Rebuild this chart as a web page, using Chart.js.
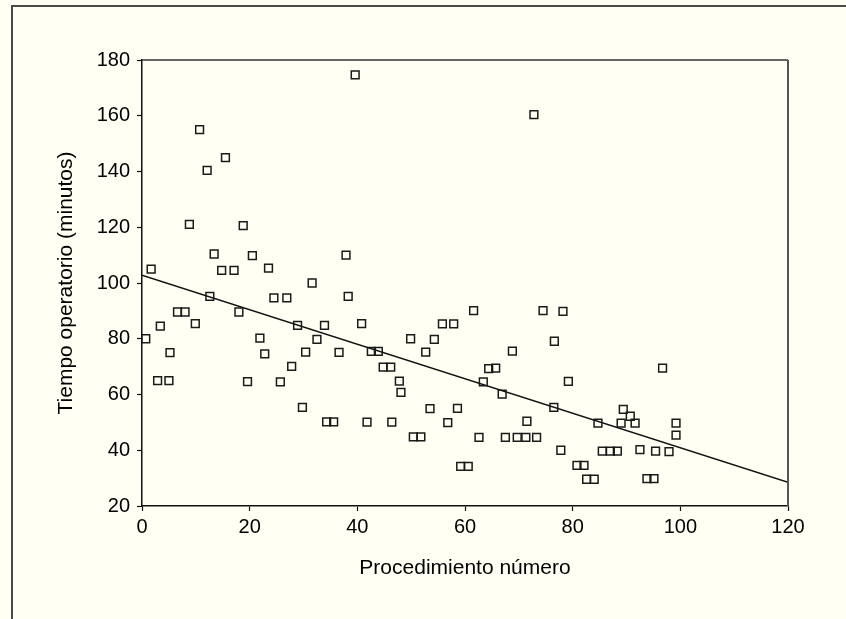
<!DOCTYPE html>
<html lang="es">
<head>
<meta charset="UTF-8" />
<title>Tiempo operatorio</title>
<script src="https://cdn.jsdelivr.net/npm/chart.js@4"></script>
<style>
  body { margin: 0; background: #fffff4; }
  #wrap { position: relative; width: 846px; height: 619px; }
  #frame {
    position: absolute; left: 11px; top: 5px; width: 835px; height: 614px;
    border-top: 2px solid #4a4a4a; border-left: 2px solid #4a4a4a;
    pointer-events: none;
  }
</style>
</head>
<body>
<div id="wrap">
  <canvas id="chart" width="846" height="619"></canvas>
  <div id="frame"></div>
</div>
<script>
// procedure number (x) and operating time in minutes (y)
const procedimiento = [
  0.7, 1.7, 2.9, 3.4, 5.0, 5.2, 6.6, 8.0, 8.8, 9.9,
  10.7, 12.1, 12.6, 13.4, 14.8, 15.5, 17.1, 18.0, 18.8, 19.6,
  20.5, 21.9, 22.8, 23.5, 24.5, 25.7, 26.9, 27.8, 28.9, 29.8,
  30.4, 31.6, 32.5, 33.9, 34.3, 35.6, 36.6, 37.9, 38.3, 39.6,
  40.8, 41.8, 42.6, 43.9, 44.8, 46.2, 46.4, 47.8, 48.1, 49.9,
  50.4, 51.8, 52.7, 53.5, 54.3, 55.8, 56.8, 57.9, 58.6, 59.2,
  60.6, 61.6, 62.6, 63.4, 64.4, 65.7, 66.9, 67.5, 68.8, 69.7,
  71.3, 71.5, 72.8, 73.3, 74.5, 76.5, 76.6, 77.8, 78.2, 79.2,
  80.8, 82.1, 82.6, 84.0, 84.7, 85.5, 87.0, 88.3, 89.0, 89.4,
  90.7, 91.6, 92.5, 93.8, 95.1, 95.4, 96.7, 97.9, 99.2, 99.2
];
const tiempo = [
  80, 105, 65, 84.5, 65, 75, 89.6, 89.6, 121, 85.4,
  155, 140.4, 95.2, 110.4, 104.5, 145, 104.5, 89.6, 120.6, 64.6,
  109.8, 80.2, 74.6, 105.3, 94.7, 64.5, 94.7, 70.1, 84.8, 55.4,
  75.2, 100, 79.8, 84.8, 50.2, 50.2, 75.1, 110, 95.2, 174.7,
  85.4, 50.1, 75.5, 75.5, 69.8, 69.8, 50.1, 64.8, 60.8, 80,
  44.8, 44.8, 75.2, 54.9, 79.8, 85.3, 49.9, 85.3, 55, 34.2,
  34.2, 90.1, 44.6, 64.5, 69.3, 69.5, 60.1, 44.6, 75.6, 44.6,
  44.6, 50.4, 160.4, 44.6, 90.1, 55.4, 79.1, 40, 89.8, 64.7,
  34.6, 34.6, 29.6, 29.6, 49.7, 39.7, 39.7, 39.7, 49.7, 54.7,
  52.2, 49.7, 40.2, 29.8, 29.8, 39.7, 69.5, 39.5, 49.7, 45.4
];
// fitted trend line end points
const tendenciaX = [0, 120];
const tendenciaY = [102.8, 28.5];

const xTitulo = "Procedimiento número";
const yTitulo = "Tiempo operatorio (minutos)";

const fontFamily = "'Liberation Sans', Arial, Helvetica, sans-serif";

// top and right edges of the plot box
const plotBox = {
  id: "plotBox",
  afterDraw(chart) {
    const { ctx, chartArea: a } = chart;
    ctx.save();
    ctx.strokeStyle = "#333";
    ctx.lineWidth = 1.5;
    ctx.beginPath();
    ctx.moveTo(a.left, a.top);
    ctx.lineTo(a.right, a.top);
    ctx.stroke();
    ctx.strokeStyle = "#555";
    ctx.lineWidth = 2;
    ctx.beginPath();
    ctx.moveTo(a.right, a.top);
    ctx.lineTo(a.right, a.bottom);
    ctx.stroke();
    ctx.restore();
  }
};

new Chart(document.getElementById("chart"), {
  type: "scatter",
  data: {
    datasets: [
      {
        label: "Procedimientos",
        data: procedimiento.map((x, i) => ({ x: x, y: tiempo[i] })),
        pointStyle: "rect",
        pointRadius: 5.5,
        pointBorderWidth: 1.5,
        borderColor: "#1a1a1a",
        backgroundColor: "rgba(0,0,0,0)"
      },
      {
        label: "Tendencia",
        data: tendenciaX.map((x, i) => ({ x: x, y: tendenciaY[i] })),
        showLine: true,
        pointRadius: 0,
        borderColor: "#111",
        borderWidth: 1.3
      }
    ]
  },
  options: {
    responsive: false,
    animation: false,
    layout: { padding: { left: 0, top: 60, right: 58, bottom: 0 } },
    plugins: { legend: { display: false }, tooltip: { enabled: false } },
    scales: {
      x: {
        type: "linear",
        min: 0,
        max: 120,
        afterFit(scale) { scale.height = 113; },
        border: { display: true, color: "#111", width: 1.5 },
        grid: { drawOnChartArea: false, tickLength: 5, tickColor: "#111", tickWidth: 1.2 },
        ticks: {
          stepSize: 20,
          padding: 4,
          color: "#000",
          font: { family: fontFamily, size: 20 }
        },
        title: {
          display: true,
          text: xTitulo,
          color: "#000",
          font: { family: fontFamily, size: 21 },
          padding: { bottom: 38 }
        }
      },
      y: {
        type: "linear",
        min: 20,
        max: 180,
        afterFit(scale) { scale.width = 142; },
        border: { display: true, color: "#111", width: 1.5 },
        grid: { drawOnChartArea: false, tickLength: 5, tickColor: "#111", tickWidth: 1.2 },
        ticks: {
          stepSize: 20,
          padding: 7,
          color: "#000",
          font: { family: fontFamily, size: 20 }
        },
        title: {
          display: true,
          text: yTitulo,
          color: "#000",
          font: { family: fontFamily, size: 21 },
          padding: { top: 54 }
        }
      }
    }
  },
  plugins: [plotBox]
});
</script>
</body>
</html>
